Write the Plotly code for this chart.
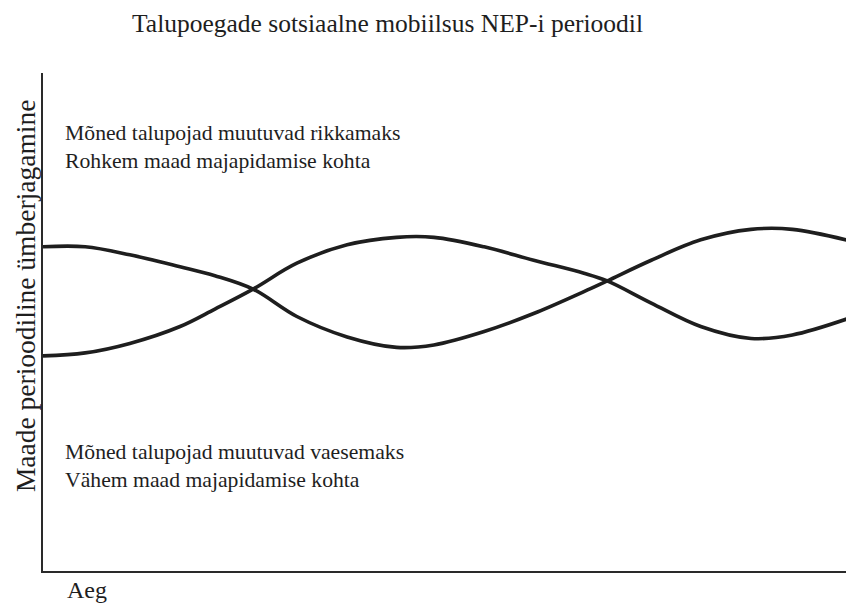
import plotly.graph_objects as go

# Time axis (arbitrary units, 0 = start, 100 = end)
time_points = [0, 5.2, 10.7, 16.9, 21.2, 25.9, 31.3, 37.5, 43.6, 48.2, 54.4,
               60.5, 66.7, 69.5, 75.0, 81.1, 87.3, 92.4, 100]

# Curve starting high (falls, rises, peaks, eases down)
series_high_start = [65.1, 65.1, 63.5, 61.1, 59.3, 56.6, 51.1, 47.0, 44.9, 45.4, 48.1,
                     51.7, 56.1, 58.2, 62.4, 66.5, 68.6, 68.6, 66.1]

# Curve starting low (rises, falls, bottoms out, eases up)
series_low_start = [43.2, 43.8, 45.7, 49.1, 52.6, 56.6, 61.8, 65.5, 67.0, 67.0, 65.1,
                    62.4, 59.8, 58.3, 53.8, 49.1, 46.7, 47.4, 51.1]

title_text = "Talupoegade sotsiaalne mobiilsus NEP-i perioodil"
y_title = "Maade perioodiline ümberjagamine"
x_title = "Aeg"
upper_text = ["Mõned talupojad muutuvad rikkamaks", "Rohkem maad majapidamise kohta"]
lower_text = ["Mõned talupojad muutuvad vaesemaks", "Vähem maad majapidamise kohta"]

FONT = "Liberation Serif, Times New Roman, serif"
INK = "#1e1e1e"

fig = go.Figure()
for ys in (series_high_start, series_low_start):
    fig.add_trace(go.Scatter(
        x=time_points, y=ys, mode="lines",
        line=dict(color=INK, width=3.6, shape="spline", smoothing=1.0),
        hoverinfo="skip", showlegend=False,
    ))

fig.update_layout(
    width=846, height=599,
    margin=dict(l=35, r=0, t=65, b=36),
    paper_bgcolor="white", plot_bgcolor="white",
    font=dict(family=FONT, color=INK),
    title=dict(text=title_text, xref="container", yref="container",
               x=0.4486, xanchor="center", y=0.975, yanchor="middle",
               font=dict(family=FONT, size=25.5, color=INK)),
    xaxis=dict(range=[0, 100], showline=True, linecolor="#2a2a2a", linewidth=2,
               showgrid=False, zeroline=False, showticklabels=False, ticks=""),
    yaxis=dict(range=[0, 100], showline=True, linecolor="#2a2a2a", linewidth=2,
               showgrid=False, zeroline=False, showticklabels=False, ticks=""),
)

fig.add_annotation(text="<br>".join(upper_text), xref="x", yref="y",
                   x=2.47, y=85.1, xanchor="left", yanchor="middle", align="left",
                   showarrow=False, font=dict(family=FONT, size=21.7, color=INK))
fig.add_annotation(text="<br>".join(lower_text), xref="x", yref="y",
                   x=2.47, y=21.0, xanchor="left", yanchor="middle", align="left",
                   showarrow=False, font=dict(family=FONT, size=21.7, color=INK))
fig.add_annotation(text=y_title, xref="paper", yref="paper",
                   x=-0.0222, y=0.554, xanchor="center", yanchor="middle",
                   textangle=-90, showarrow=False,
                   font=dict(family=FONT, size=27.5, color=INK))
fig.add_annotation(text=x_title, xref="paper", yref="paper",
                   x=0.0543, y=-0.038, xanchor="center", yanchor="middle",
                   showarrow=False, font=dict(family=FONT, size=24, color=INK))

fig.write_html("out.html")
